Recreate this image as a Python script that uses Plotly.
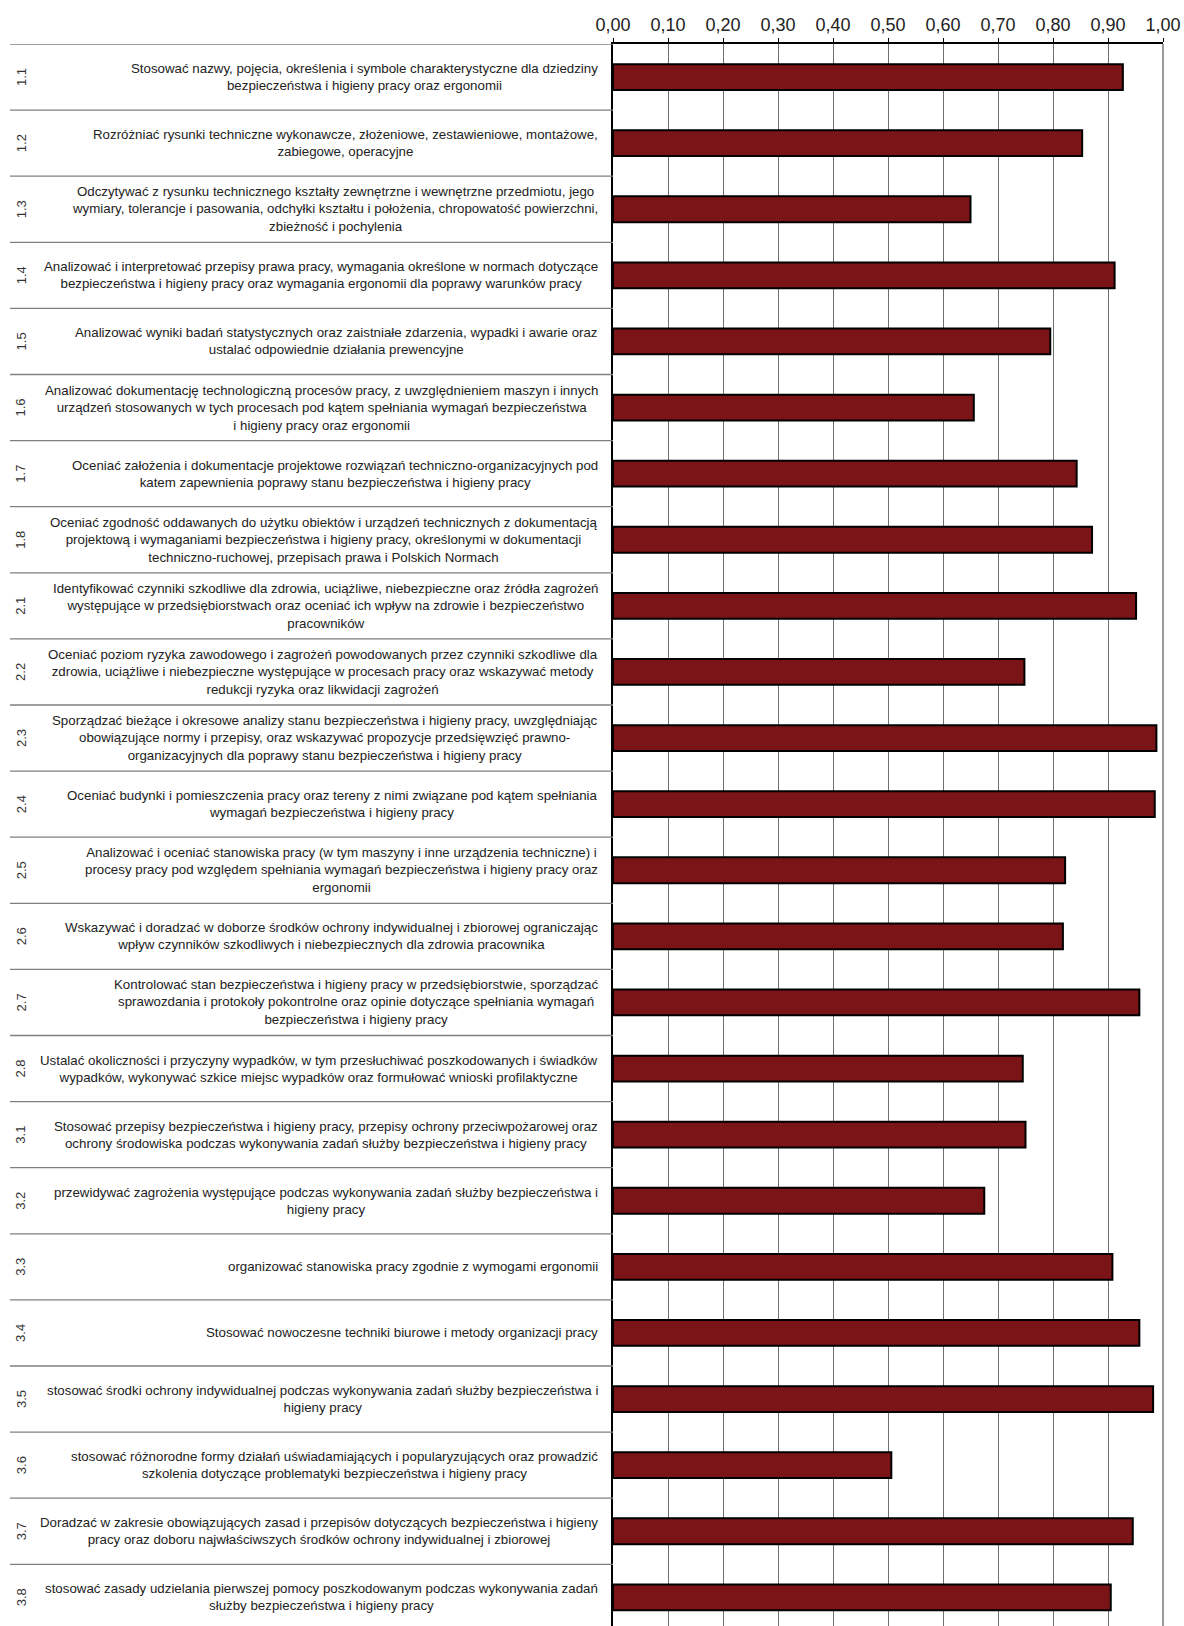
import plotly.graph_objects as go

codes = ["1.1", "1.2", "1.3", "1.4", "1.5", "1.6", "1.7", "1.8",
         "2.1", "2.2", "2.3", "2.4", "2.5", "2.6", "2.7", "2.8",
         "3.1", "3.2", "3.3", "3.4", "3.5", "3.6", "3.7", "3.8"]

descriptions = [
    "Stosować nazwy, pojęcia, określenia i symbole charakterystyczne dla dziedziny<br>bezpieczeństwa i higieny pracy oraz ergonomii",
    "Rozróżniać rysunki techniczne wykonawcze, złożeniowe, zestawieniowe, montażowe,<br>zabiegowe, operacyjne",
    "Odczytywać z rysunku technicznego kształty zewnętrzne i wewnętrzne przedmiotu, jego<br>wymiary, tolerancje i pasowania, odchyłki kształtu i położenia, chropowatość powierzchni,<br>zbieżność i pochylenia",
    "Analizować i interpretować przepisy prawa pracy, wymagania określone w normach dotyczące<br>bezpieczeństwa i higieny pracy oraz wymagania ergonomii dla poprawy warunków pracy",
    "Analizować wyniki badań statystycznych oraz zaistniałe zdarzenia, wypadki i awarie oraz<br>ustalać odpowiednie działania prewencyjne",
    "Analizować dokumentację technologiczną procesów pracy, z uwzględnieniem maszyn i innych<br>urządzeń stosowanych w tych procesach pod kątem spełniania wymagań bezpieczeństwa<br>i higieny pracy oraz ergonomii",
    "Oceniać założenia i dokumentacje projektowe rozwiązań techniczno-organizacyjnych pod<br>katem zapewnienia poprawy stanu bezpieczeństwa i higieny pracy",
    "Oceniać zgodność oddawanych do użytku obiektów i urządzeń technicznych z dokumentacją<br>projektową i wymaganiami bezpieczeństwa i higieny pracy, określonymi w dokumentacji<br>techniczno-ruchowej, przepisach prawa i Polskich Normach",
    "Identyfikować czynniki szkodliwe dla zdrowia, uciążliwe, niebezpieczne oraz źródła zagrożeń<br>występujące w przedsiębiorstwach oraz oceniać ich wpływ na zdrowie i bezpieczeństwo<br>pracowników",
    "Oceniać poziom ryzyka zawodowego i zagrożeń powodowanych przez czynniki szkodliwe dla<br>zdrowia, uciążliwe i niebezpieczne występujące w procesach pracy oraz wskazywać metody<br>redukcji ryzyka oraz likwidacji zagrożeń",
    "Sporządzać bieżące i okresowe analizy stanu bezpieczeństwa i higieny pracy, uwzględniając<br>obowiązujące normy i przepisy, oraz wskazywać propozycje przedsięwzięć prawno-<br>organizacyjnych dla poprawy stanu bezpieczeństwa i higieny pracy",
    "Oceniać budynki i pomieszczenia pracy oraz tereny z nimi związane pod kątem spełniania<br>wymagań bezpieczeństwa i higieny pracy",
    "Analizować i oceniać stanowiska pracy (w tym maszyny i inne urządzenia techniczne) i<br>procesy pracy pod względem spełniania wymagań bezpieczeństwa i higieny pracy oraz<br>ergonomii",
    "Wskazywać i doradzać w doborze środków ochrony indywidualnej i zbiorowej ograniczając<br>wpływ czynników szkodliwych i niebezpiecznych dla zdrowia pracownika",
    "Kontrolować stan bezpieczeństwa i higieny pracy w przedsiębiorstwie, sporządzać<br>sprawozdania i protokoły pokontrolne oraz opinie dotyczące spełniania wymagań<br>bezpieczeństwa i higieny pracy",
    "Ustalać okoliczności i przyczyny wypadków, w tym przesłuchiwać poszkodowanych i świadków<br>wypadków, wykonywać szkice miejsc wypadków oraz formułować wnioski profilaktyczne",
    "Stosować przepisy bezpieczeństwa i higieny pracy, przepisy ochrony przeciwpożarowej oraz<br>ochrony środowiska podczas wykonywania zadań służby bezpieczeństwa i higieny pracy",
    "przewidywać zagrożenia występujące podczas wykonywania zadań służby bezpieczeństwa i<br>higieny pracy",
    "organizować stanowiska pracy zgodnie z wymogami ergonomii",
    "Stosować nowoczesne techniki biurowe i metody organizacji pracy",
    "stosować środki ochrony indywidualnej podczas wykonywania zadań służby bezpieczeństwa i<br>higieny pracy",
    "stosować różnorodne formy działań uświadamiających i popularyzujących oraz prowadzić<br>szkolenia dotyczące problematyki bezpieczeństwa i higieny pracy",
    "Doradzać w zakresie obowiązujących zasad i przepisów dotyczących bezpieczeństwa i higieny<br>pracy oraz doboru najwłaściwszych środków ochrony indywidualnej i zbiorowej",
    "stosować zasady udzielania pierwszej pomocy poszkodowanym podczas wykonywania zadań<br>służby bezpieczeństwa i higieny pracy",
]

values = [0.927, 0.853, 0.650, 0.912, 0.795, 0.656, 0.843, 0.871,
          0.951, 0.748, 0.988, 0.985, 0.822, 0.818, 0.957, 0.745,
          0.750, 0.675, 0.908, 0.957, 0.982, 0.506, 0.945, 0.905]

tick_vals = [0.0, 0.1, 0.2, 0.3, 0.4, 0.5, 0.6, 0.7, 0.8, 0.9, 1.0]
tick_text = ["0,00", "0,10", "0,20", "0,30", "0,40", "0,50", "0,60", "0,70", "0,80", "0,90", "1,00"]

W, H = 1184, 1626
ML, MR, MT, MB = 613, 21, 44, 0
row_px = 66.1
plot_w = W - ML - MR
n = len(codes)
idx = list(range(n))
y_bottom = -0.5 + (H - MT - MB) / row_px

FONT = "Arial, 'Liberation Sans', sans-serif"

fig = go.Figure()
fig.add_trace(go.Bar(
    x=values, y=idx, orientation="h", width=0.39,
    marker=dict(color="#7B1416", line=dict(color="#000000", width=2)),
    customdata=codes, hovertemplate="%{customdata}: %{x}<extra></extra>",
    showlegend=False,
))

def px_to_paper(px):
    return (px - ML) / plot_w

shapes = []
for i in range(n + 1):
    shapes.append(dict(type="line", xref="paper", yref="y",
                       x0=px_to_paper(10), x1=0, y0=i - 0.5, y1=i - 0.5,
                       line=dict(color="#7f7f7f", width=1.3), layer="above"))
shapes.append(dict(type="line", xref="paper", yref="paper", x0=1, x1=1, y0=0, y1=1,
                   line=dict(color="#9a9a9a", width=2), layer="above"))

annotations = []
for i, (c, d) in enumerate(zip(codes, descriptions)):
    annotations.append(dict(xref="paper", yref="y", x=px_to_paper(600), y=i,
                            text=d, showarrow=False, xanchor="right", yanchor="middle",
                            align="center", font=dict(family=FONT, size=13.3, color="#222222")))
    annotations.append(dict(xref="paper", yref="y", x=px_to_paper(21), y=i,
                            text=c, showarrow=False, xanchor="center", yanchor="middle",
                            textangle=-90, font=dict(family=FONT, size=13, color="#333333")))

fig.update_layout(
    width=W, height=H,
    margin=dict(l=ML, r=MR, t=MT, b=MB, pad=0),
    paper_bgcolor="white", plot_bgcolor="white",
    font=dict(family=FONT, color="#222222"),
    xaxis=dict(side="top", range=[0, 1], tickvals=tick_vals, ticktext=tick_text,
               showgrid=True, gridcolor="#707070", gridwidth=1,
               showline=True, linecolor="#000000", linewidth=1.5,
               ticks="outside", ticklen=4, tickcolor="#000000", tickwidth=1,
               tickfont=dict(family=FONT, size=18, color="#222222"),
               zeroline=False, fixedrange=True),
    yaxis=dict(range=[y_bottom, -0.5], showticklabels=False, ticks="",
               showgrid=False, zeroline=False,
               showline=True, linecolor="#000000", linewidth=2, fixedrange=True),
    shapes=shapes, annotations=annotations,
)

fig.write_html("out.html", config={"displayModeBar": False},
               post_script="document.body.style.margin='0';document.body.style.overflow='hidden';")
